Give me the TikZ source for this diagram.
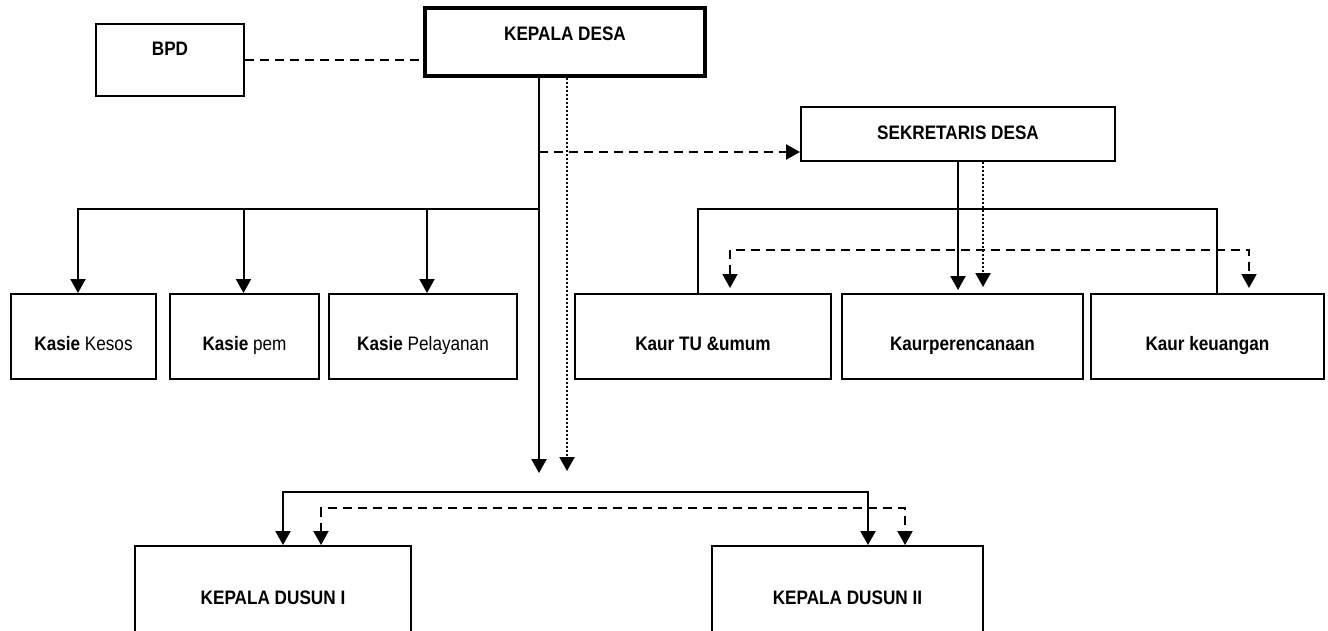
\documentclass[tikz,border=0pt]{standalone}
\usepackage{fontspec}
\setmainfont{Liberation Sans}[FakeStretch=0.88]
\usetikzlibrary{positioning,arrows.meta}

\begin{document}
\begin{tikzpicture}[x=1pt,y=-1pt,
  >={Triangle[width=15pt,length=14pt]},
  line width=2pt,
  orgbox/.style={draw,line width=2pt,inner sep=0pt,
    font=\fontsize{19.5pt}{22pt}\selectfont},
  headbox/.style={orgbox,font=\fontsize{19.5pt}{22pt}\selectfont\bfseries},
  unitbox/.style={orgbox,text height=56pt,text depth=29pt},
  dusunbox/.style={headbox,text height=58pt,text depth=56pt},
  dashline/.style={dash pattern=on 9pt off 6pt},
  dotline/.style={dash pattern=on 2pt off 2pt}
  ]
  \useasboundingbox (0,0) rectangle (1328,630);
  \clip (0,0) rectangle (1328,630);

  % top
  \node[headbox,minimum width=148pt,text height=31pt,text depth=41pt] (bpd) at (170,60) {BPD};
  \node[headbox,line width=3.5pt,minimum width=280pt,text height=32pt,text depth=36pt] (kd) at (565,42) {KEPALA DESA};
  \node[headbox,minimum width=314pt,text height=32pt,text depth=22pt] (sk) at (958,134) {SEKRETARIS DESA};

  % kasie
  \node[unitbox,minimum width=145pt] (kesos) at (83.5,336.5) {\textbf{Kasie} Kesos};
  \node[unitbox,minimum width=149pt,right=12pt of kesos] (pem) {\textbf{Kasie} pem};
  \node[unitbox,minimum width=188pt,right=8pt of pem] (pel) {\textbf{Kasie} Pelayanan};

  % kaur
  \node[unitbox,font=\fontsize{19.5pt}{22pt}\selectfont\bfseries,minimum width=256pt] (tu) at (703,336.5) {Kaur TU \&umum};
  \node[unitbox,font=\fontsize{19.5pt}{22pt}\selectfont\bfseries,minimum width=241pt,right=9pt of tu] (per) {Kaurperencanaan};
  \node[unitbox,font=\fontsize{19.5pt}{22pt}\selectfont\bfseries,minimum width=233pt,right=6pt of per] (keu) {Kaur keuangan};

  % dusun
  \node[dusunbox,minimum width=276pt] (d1) at (273,603) {KEPALA DUSUN I};
  \node[dusunbox,minimum width=271pt] (d2) at (847.5,603) {KEPALA DUSUN II};

  \coordinate (spine) at (539,0);
  \coordinate (dotkd) at (567,0);
  \coordinate (spineend) at (539,473);
  \coordinate (dotend) at (567,471);
  \coordinate (lbus) at (0,209);
  \coordinate (rbus) at (0,209);
  \coordinate (rdash) at (0,250);
  \coordinate (bbus) at (0,492);
  \coordinate (bdash) at (0,508);
  \coordinate (tuin) at ([xshift=-5pt]tu.north);
  \coordinate (keuin) at ([xshift=9.5pt]keu.north);
  \coordinate (tuda) at ([xshift=27pt]tu.north);
  \coordinate (keuda) at ([xshift=41.5pt]keu.north);
  \coordinate (kesosin) at ([xshift=-5.5pt]kesos.north);
  \coordinate (pemin) at ([xshift=-1pt]pem.north);
  \coordinate (pelin) at ([xshift=4pt]pel.north);
  \coordinate (skdot) at ([xshift=25pt]sk.south);
  \coordinate (d1s) at ([xshift=10pt]d1.north);
  \coordinate (d2s) at ([xshift=20.5pt]d2.north);
  \coordinate (d1d) at ([xshift=48pt]d1.north);
  \coordinate (d2d) at ([xshift=57.5pt]d2.north);

  % kepala desa
  \draw[dashline] (bpd.east) -- (bpd.east -| kd.west);
  \draw[->] (kd.south -| spine) -- (spineend);
  \draw[->,dotline] (kd.south -| dotkd) -- (dotend);
  \draw[->,dashline,line width=2.5pt] ([yshift=-18pt]sk.west -| spine) -- ([yshift=-18pt]sk.west);
  \draw[->] (spine |- lbus) -| (kesosin);
  \draw[->] (pemin |- lbus) -- (pemin);
  \draw[->] (pelin |- lbus) -- (pelin);

  % sekretaris
  \draw[->,shorten >=3pt] (sk.south) -- (sk.south |- per.north);
  \draw[->,dotline,shorten >=6pt] (skdot) -- (skdot |- per.north);
  \draw (tuin) -- (tuin |- rbus) -- (keuin |- rbus) -- (keuin);
  \draw[<->,dashline,line width=1.7pt,shorten <=5pt,shorten >=5pt] (tuda) |- (rdash -| keuda) -- (keuda);

  % dusun
  \draw[<->] (d1s) |- (bbus -| d2s) -- (d2s);
  \draw[<->,dashline] (d1d) |- (bdash -| d2d) -- (d2d);
\end{tikzpicture}
\end{document}
